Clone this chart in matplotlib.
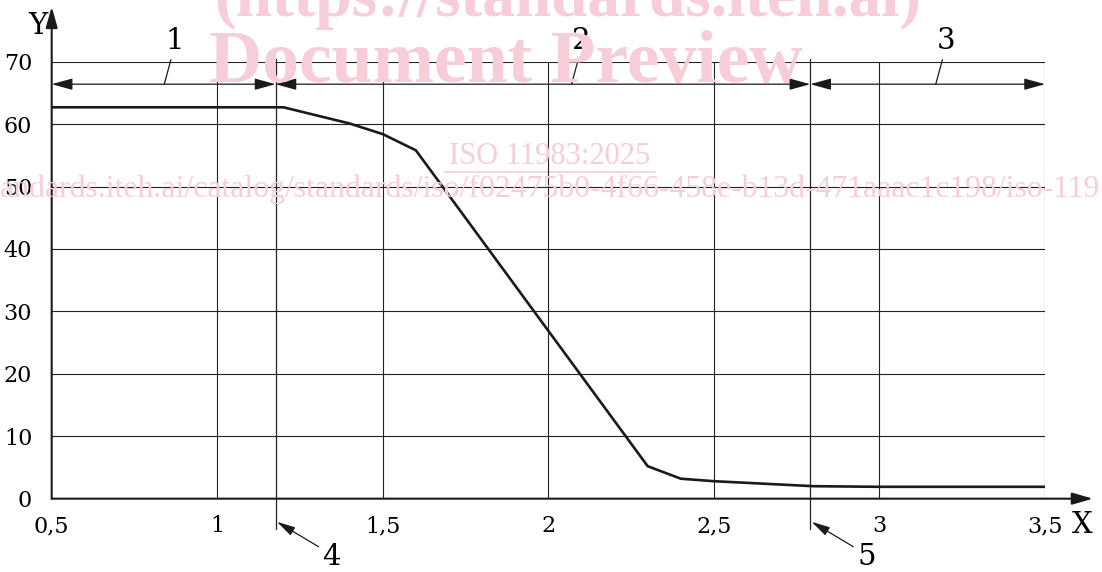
import numpy as np
import matplotlib
matplotlib.use('Agg')
import matplotlib.pyplot as plt
from matplotlib.lines import Line2D

# 曲线数据
x_vals = [0.5, 1.2, 1.4, 1.5, 1.6, 2.3, 2.4, 2.5, 2.8, 3.0, 3.5]
y_vals = [62.7, 62.7, 60.1, 58.4, 55.8, 5.2, 3.2, 2.8, 2.0, 1.9, 1.9]
x_ticks = [0.5, 1, 1.5, 2, 2.5, 3, 3.5]
x_labels = ['0,5', '1', '1,5', '2', '2,5', '3', '3,5']
y_ticks = [0, 10, 20, 30, 40, 50, 60, 70]
zone_bounds = [0.5, 1.176, 2.791, 3.5]
zone_names = ['1', '2', '3']

plt.rcParams['font.family'] = ['DejaVu Serif']
fig = plt.figure(figsize=(11.02, 5.72), dpi=100)
ax = fig.add_axes([0.0469, 0.1282, 0.9014, 0.7639])
ax.set_xlim(0.5, 3.5)
ax.set_ylim(0, 70)

# 水印
pink = '#f7cdd8'
fig.text(0.515, 1.0, '(https://standards.iteh.ai)', color=pink, fontsize=47, fontweight='bold',
         family='Liberation Serif', ha='center', va='center', zorder=0)
fig.text(0.459, 0.888, 'Document Preview', color=pink, fontsize=53, fontweight='bold',
         family='Liberation Serif', ha='center', va='center', zorder=0)
fig.text(0.499, 0.726, 'ISO 11983:2025', color=pink, fontsize=22,
         family='Liberation Serif', ha='center', va='center', zorder=0)
fig.add_artist(Line2D([0.404, 0.594], [0.700, 0.700], color=pink, lw=1.2, zorder=0))
fig.text(0.0, 0.67, 'andards.iteh.ai/catalog/standards/iso/f02475b0-4f66-458e-b13d-471aaac1c198/iso-119',
         color=pink, fontsize=22.9, family='Liberation Serif', ha='left', va='center', zorder=0)
ax.patch.set_alpha(0)

# 网格
for xv in [1, 1.5, 2, 2.5, 3, 3.5]:
    ax.plot([xv, xv], [0, 70], color='#222222', lw=0.8, zorder=1)
for yv in y_ticks[1:]:
    ax.plot([0.5, 3.5], [yv, yv], color='#222222', lw=0.8, zorder=1)

# 分区线
for xb in zone_bounds[1:3]:
    ax.plot([xb, xb], [-4.9, 70.4], color='#222222', lw=0.9, clip_on=False, zorder=2)

# 曲线
ax.plot(x_vals, y_vals, color='#1a1a1a', lw=1.9, zorder=3)

# 坐标轴
for s in ax.spines.values():
    s.set_visible(False)
ax.annotate('', xy=(0.5, 78.8), xytext=(0.5, 0), annotation_clip=False,
            arrowprops=dict(arrowstyle='-|>,head_length=0.7,head_width=0.2', color='#1a1a1a',
                            lw=1.5, shrinkA=0, shrinkB=0, mutation_scale=18))
ax.annotate('', xy=(3.645, 0), xytext=(0.5, 0), annotation_clip=False,
            arrowprops=dict(arrowstyle='-|>,head_length=0.7,head_width=0.2', color='#1a1a1a',
                            lw=1.5, shrinkA=0, shrinkB=0, mutation_scale=18))
ax.set_xticks(x_ticks)
ax.set_xticklabels(x_labels, fontsize=16)
ax.set_yticks(y_ticks)
ax.set_yticklabels([str(v) for v in y_ticks], fontsize=16)
ax.tick_params(length=0)
ax.tick_params(axis='x', pad=12)
ax.tick_params(axis='y', pad=14)
ax.text(0.459, 75.8, 'Y', fontsize=21, ha='center', va='center')
ax.text(3.611, -4.2, 'X', fontsize=21, ha='center', va='center')

# 区间箭头
y_dim = 66.4
for i in range(3):
    ax.annotate('', xy=(zone_bounds[i + 1], y_dim), xytext=(zone_bounds[i], y_dim),
                arrowprops=dict(arrowstyle='<|-|>,head_length=0.8,head_width=0.22', color='#1a1a1a',
                                lw=0.9, shrinkA=0, shrinkB=0, mutation_scale=16), zorder=4)
label_x = [0.84, 2.07, 3.17]
for lx, name in zip(label_x, zone_names):
    ax.plot([lx, lx + 0.02], [y_dim, 70.3], color='#1a1a1a', lw=0.9, clip_on=False)
    ax.text(lx + 0.03, 73.3, name, fontsize=21, ha='center', va='center')

# 4 与 5
for xb, name in zip(zone_bounds[1:3], ['4', '5']):
    ax.annotate('', xy=(xb + 0.004, -3.7), xytext=(xb + 0.13, -7.7), annotation_clip=False,
                arrowprops=dict(arrowstyle='-|>,head_length=0.8,head_width=0.2', color='#1a1a1a',
                                lw=0.9, shrinkA=0, shrinkB=0, mutation_scale=14))
    ax.text(xb + 0.17, -9.4, name, fontsize=21, ha='center', va='center')

fig.savefig('out.png', dpi=100)
